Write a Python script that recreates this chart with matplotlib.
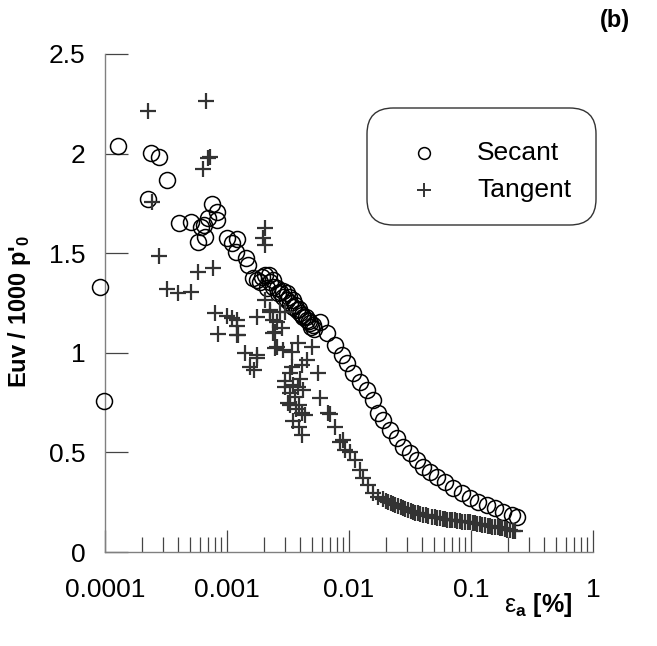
import matplotlib
matplotlib.use("Agg")
import matplotlib.pyplot as plt
from matplotlib.patches import FancyBboxPatch
from matplotlib.ticker import LogLocator, FixedLocator, NullFormatter

plt.rcParams['font.family'] = ['Liberation Sans', 'DejaVu Sans']
plt.rcParams['mathtext.fontset'] = 'custom'
plt.rcParams['mathtext.rm'] = 'Liberation Sans'
plt.rcParams['mathtext.it'] = 'Liberation Sans:italic'
plt.rcParams['mathtext.bf'] = 'Liberation Sans:bold'

# secant modulus: axial strain [%] and Euv / 1000 p'0
secant_strain = [9.1e-5, 9.8e-5, 1.28e-4, 2.25e-4, 2.38e-4, 2.77e-4, 3.22e-4, 4.04e-4,
                 5.07e-4, 5.78e-4, 6.12e-4, 6.48e-4, 6.61e-4, 6.98e-4, 7.54e-4, 8.28e-4,
                 8.28e-4, 1.0e-3, 1.10e-3, 1.21e-3, 1.19e-3, 1.43e-3, 1.49e-3, 1.63e-3,
                 1.76e-3, 1.86e-3, 1.95e-3, 2.05e-3, 2.13e-3, 2.2e-3, 2.25e-3, 2.38e-3,
                 2.4e-3, 2.57e-3, 2.6e-3, 2.72e-3, 2.88e-3, 2.9e-3, 3.10e-3, 3.10e-3,
                 3.2e-3, 3.28e-3, 3.48e-3, 3.48e-3, 3.6e-3, 3.75e-3, 3.9e-3, 3.96e-3,
                 4.1e-3, 4.20e-3, 4.4e-3, 4.53e-3, 4.7e-3, 4.79e-3, 4.9e-3, 5.07e-3,
                 5.2e-3, 5.78e-3, 6.61e-3, 7.67e-3, 8.77e-3, 9.64e-3, 1.08e-2, 1.23e-2,
                 1.41e-2, 1.57e-2, 1.73e-2, 1.90e-2, 2.17e-2, 2.47e-2, 2.77e-2, 3.16e-2,
                 3.61e-2, 4.05e-2, 4.61e-2, 5.26e-2, 6.12e-2, 7.12e-2, 8.43e-2, 9.82e-2,
                 0.114, 0.135, 0.157, 0.183, 0.217, 0.238]
secant_e = [1.33, 0.758, 2.038, 1.772, 2.003, 1.983, 1.867, 1.652,
            1.657, 1.556, 1.632, 1.642, 1.581, 1.677, 1.747, 1.707,
            1.667, 1.576, 1.551, 1.571, 1.506, 1.476, 1.441, 1.376,
            1.365, 1.355, 1.38, 1.391, 1.325, 1.39, 1.355, 1.365,
            1.33, 1.325, 1.30, 1.305, 1.280, 1.31, 1.300, 1.265,
            1.28, 1.250, 1.265, 1.230, 1.24, 1.215, 1.22, 1.200,
            1.19, 1.180, 1.18, 1.165, 1.16, 1.150, 1.13, 1.140,
            1.12, 1.155, 1.099, 1.039, 0.989, 0.949, 0.899, 0.853,
            0.813, 0.763, 0.698, 0.663, 0.612, 0.572, 0.527, 0.497,
            0.462, 0.427, 0.402, 0.377, 0.351, 0.321, 0.296, 0.271,
            0.251, 0.236, 0.221, 0.201, 0.186, 0.176]

# tangent modulus
tangent_strain = [2.25e-4, 6.73e-4, 7.26e-4, 6.98e-4, 6.36e-4, 2.43e-4, 2.77e-4, 5.78e-4,
                  7.68e-4, 3.22e-4, 3.97e-4, 5.07e-4, 7.97e-4, 1.0e-3, 1.10e-3, 1.21e-3,
                  8.44e-4, 1.21e-3, 1.41e-3, 1.76e-3, 1.54e-3, 1.66e-3, 2.05e-3, 1.97e-3,
                  2.05e-3, 1.76e-3, 2.05e-3, 2.25e-3, 2.38e-3, 2.38e-3, 2.47e-3, 2.25e-3,
                  2.72e-3, 2.99e-3, 2.57e-3, 2.47e-3, 2.82e-3, 1.21e-3, 1.23e-3, 1.76e-3,
                  2.57e-3, 2.88e-3, 3.41e-3, 3.82e-3, 4.97e-3, 3.41e-3, 4.12e-3, 4.53e-3,
                  5.57e-3, 2.99e-3, 3.28e-3, 3.61e-3, 3.82e-3, 4.20e-3, 3.16e-3, 4.12e-3,
                  4.36e-3, 5.78e-3, 6.73e-3, 4.12e-3, 7.67e-3, 8.93e-3, 9.27e-3, 3.0e-3,
                  3.3e-3, 3.5e-3, 3.7e-3, 3.9e-3, 4.0e-3, 3.3e-3, 3.5e-3, 3.9e-3,
                  6.98e-3, 8.44e-3, 1.02e-2, 1.12e-2, 1.23e-2, 1.30e-2, 1.43e-2, 1.57e-2,
                  1.73e-2, 1.90e-2, 2.0e-2, 2.09e-2, 2.2e-2, 2.30e-2, 2.4e-2, 2.52e-2,
                  2.65e-2, 2.77e-2, 2.9e-2, 3.05e-2, 3.2e-2, 3.35e-2, 3.5e-2, 3.68e-2,
                  3.85e-2, 4.05e-2, 4.25e-2, 4.45e-2, 4.75e-2, 5.07e-2, 5.3e-2, 5.57e-2,
                  5.85e-2, 6.12e-2, 6.4e-2, 6.73e-2, 7.05e-2, 7.40e-2, 7.75e-2, 8.13e-2,
                  8.5e-2, 8.93e-2, 9.4e-2, 9.82e-2, 0.103, 0.108, 0.113, 0.119,
                  0.124, 0.130, 0.137, 0.143, 0.150, 0.157, 0.165, 0.173,
                  0.181, 0.190, 0.199, 0.209, 0.219, 0.230]
tangent_e = [2.214, 2.264, 1.983, 1.978, 1.923, 1.757, 1.486, 1.406,
             1.426, 1.320, 1.300, 1.305, 1.200, 1.185, 1.175, 1.135,
             1.094, 1.089, 0.999, 0.989, 0.929, 0.914, 1.627, 1.576,
             1.541, 1.180, 1.265, 1.215, 1.165, 1.099, 1.024, 1.205,
             1.205, 1.205, 1.155, 1.104, 1.124, 1.165, 1.089, 0.974,
             1.029, 1.014, 1.004, 1.049, 1.029, 0.929, 0.939, 0.964,
             0.899, 0.828, 0.798, 0.778, 0.828, 0.813, 0.748, 0.698,
             0.688, 0.773, 0.698, 0.587, 0.628, 0.562, 0.512, 0.86,
             0.90, 0.84, 0.72, 0.74, 0.87, 0.74, 0.66, 0.63,
             0.693, 0.552, 0.502, 0.462, 0.412, 0.371, 0.336, 0.296,
             0.276, 0.266, 0.258, 0.251, 0.246, 0.241, 0.236, 0.231,
             0.226, 0.221, 0.216, 0.211, 0.206, 0.201, 0.198, 0.196,
             0.19, 0.186, 0.184, 0.181, 0.178, 0.176, 0.173, 0.171,
             0.168, 0.166, 0.163, 0.161, 0.162, 0.161, 0.158, 0.156,
             0.153, 0.151, 0.152, 0.151, 0.148, 0.146, 0.143, 0.141,
             0.138, 0.136, 0.133, 0.131, 0.128, 0.126, 0.123, 0.120,
             0.118, 0.115, 0.112, 0.110, 0.107, 0.105]

x_ticks = [1e-4, 1e-3, 1e-2, 1e-1, 1]
x_tick_labels = ["0.0001", "0.001", "0.01", "0.1", "1"]
y_ticks = [0, 0.5, 1, 1.5, 2, 2.5]
y_tick_labels = ["0", "0.5", "1", "1.5", "2", "2.5"]

fig = plt.figure(figsize=(6.57, 6.46), dpi=100)
ax = fig.add_axes([105 / 657, 1 - 552 / 646, 488 / 657, 498 / 646])

ax.plot(secant_strain, secant_e, linestyle='none', marker='o', markersize=11.5,
        markerfacecolor='none', markeredgecolor='black', markeredgewidth=1.1,
        clip_on=False, zorder=3)
ax.plot(tangent_strain, tangent_e, linestyle='none', marker='+', markersize=12,
        markeredgecolor='#333333', markeredgewidth=1.6, clip_on=False, zorder=3)

ax.set_xscale('log')
ax.set_xlim(1e-4, 1)
ax.set_ylim(0, 2.5)

for side in ['top', 'right']:
    ax.spines[side].set_visible(False)
for side in ['left', 'bottom']:
    ax.spines[side].set_color('#808080')
    ax.spines[side].set_linewidth(1.0)

ax.xaxis.set_major_locator(FixedLocator(x_ticks))
ax.set_xticklabels(x_tick_labels)
ax.xaxis.set_minor_locator(LogLocator(base=10, subs=range(2, 10)))
ax.xaxis.set_minor_formatter(NullFormatter())
ax.set_yticks(y_ticks)
ax.set_yticklabels(y_tick_labels)

ax.tick_params(axis='x', which='major', direction='in', length=16, width=0.9,
               color='#444444', labelsize=19, pad=19)
ax.tick_params(axis='x', which='minor', direction='in', length=11, width=0.9,
               color='#444444')
ax.tick_params(axis='y', which='major', direction='in', length=16.5, width=0.9,
               color='#444444', labelsize=19, pad=14)

fig.text(20 / 657, 1 - 312 / 646, "Euv / 1000 p'$_\\mathbf{0}$", rotation=90,
         fontsize=17, fontweight='bold', ha='center', va='center')
fig.text(538 / 657, 1 - 605 / 646, r"$\mathrm{\varepsilon}_{\mathbf{a}}$ [%]",
         fontsize=18, fontweight='bold', ha='center', va='center')
fig.text(615 / 657, 1 - 20 / 646, "(b)", fontsize=17, fontweight='bold',
         ha='center', va='center')

# legend box with rounded corners
box = FancyBboxPatch((367 / 657, 1 - 225 / 646), 229 / 657, 117 / 646,
                     boxstyle="round,pad=0,rounding_size=0.04",
                     transform=fig.transFigure, facecolor='white',
                     edgecolor='#333333', linewidth=1.0, zorder=5)
fig.patches.append(box)
fig.lines.append(plt.Line2D([424 / 657], [1 - 153 / 646], transform=fig.transFigure,
                            marker='o', markersize=8.5, markerfacecolor='none',
                            markeredgecolor='black', markeredgewidth=1.1,
                            linestyle='none', zorder=6))
fig.lines.append(plt.Line2D([424 / 657], [1 - 190 / 646], transform=fig.transFigure,
                            marker='+', markersize=10, markeredgecolor='#333333',
                            markeredgewidth=1.4, linestyle='none', zorder=6))
fig.text(477 / 657, 1 - 153 / 646, "Secant", fontsize=19, va='center', ha='left', zorder=7)
fig.text(477 / 657, 1 - 190 / 646, "Tangent", fontsize=19, va='center', ha='left', zorder=7)

fig.savefig("out.png", dpi=100)
